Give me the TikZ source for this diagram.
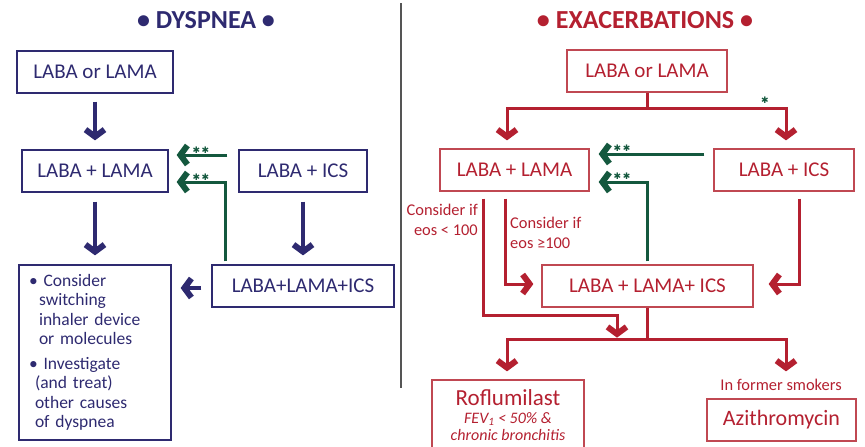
\documentclass[tikz,border=0pt]{standalone}
\usepackage{fontspec}
\setmainfont{Carlito}
\newfontfamily\symfont{DejaVu Sans}
\usetikzlibrary{arrows.meta}
\definecolor{navy}{RGB}{46,42,112}
\definecolor{exred}{RGB}{180,32,48}
\definecolor{boxred}{RGB}{192,72,82}
\definecolor{dgreen}{RGB}{20,88,62}
\definecolor{divgray}{RGB}{85,85,85}
\tikzset{
  chev/.tip={Straight Barb[length=7pt,width=19pt,line width=6pt]},
  nbox/.style={draw=navy,line width=1.3pt,text=navy,minimum height=42pt,inner sep=2pt,font=\fontsize{21}{24}\selectfont},
  rbox/.style={draw=boxred,line width=1.3pt,text=exred,minimum height=42pt,inner sep=2pt,font=\fontsize{21}{24}\selectfont},
  narrow/.style={draw=navy,line width=3.5pt,-chev},
  rline/.style={draw=exred,line width=3pt},
  rarrow/.style={draw=exred,line width=3pt,-chev},
  garrow/.style={draw=dgreen,line width=3pt,-chev},
  stars/.style={text=dgreen,font=\symfont\fontsize{9}{9}\selectfont,inner sep=0pt},
  small/.style={text=exred,font=\fontsize{16.4}{19.5}\selectfont,inner sep=0pt},
  ital/.style={text=exred,font=\fontsize{16}{16}\selectfont\itshape,inner sep=0pt},
  ttl/.style={font=\fontsize{26}{28}\selectfont\bfseries,inner sep=0pt}
}
\begin{document}
\begin{tikzpicture}[x=1pt,y=-1pt]
\useasboundingbox (0,0) rectangle (865,447);
% divider
\draw[divgray,line width=2.5pt] (401,3) -- (401,388);
% titles
\node[ttl,text=navy] (t1) at (206,20) {• DYSPNEA •};
\node[ttl,text=exred] (t2) at (645,20) {• EXACERBATIONS •};
% left boxes
\node[nbox,minimum width=156pt] (d1) at (95,72) {LABA or LAMA};
\node[nbox,minimum width=146pt] (d2) at (95,171) {LABA + LAMA};
\node[nbox,minimum width=128pt] (d3) at (303,171) {LABA + ICS};
\node[nbox,minimum width=182pt] (d4) at (303,286) {LABA+LAMA+ICS};
\node[draw=navy,line width=1.3pt,text=navy,minimum width=152pt,minimum height=175pt,
  text width=132pt,inner xsep=10pt,align=left,font=\fontsize{17.5}{19.5}\selectfont] (d5) at (95,352.5)
  {\textbullet\ Consider\\\hspace*{10pt}switching\\\hspace*{10pt}inhaler device\\\hspace*{10pt}or molecules\\[5pt]
   \textbullet\ Investigate\\\hspace*{6pt}(and treat)\\\hspace*{6pt}other causes\\\hspace*{6pt}of dyspnea};
\coordinate (p5) at (d5.east |- d4.west);
% left connectors
\draw[narrow] ([yshift=-8pt]d1.south) -- ([yshift=9pt]d2.north);
\draw[narrow] ([yshift=-9pt]d2.south) -- ([yshift=9pt]d5.north);
\draw[narrow] ([yshift=-9pt]d3.south) -- ([yshift=9pt]d4.north);
\draw[narrow] ([xshift=-10pt,yshift=-2pt]d4.west) -- ([xshift=9pt,yshift=-2pt]p5);
\draw[garrow] ([xshift=-11pt,yshift=16pt]d3.west) -- ([xshift=8pt,yshift=16pt]d2.east);
\draw[garrow] ([xshift=-78pt,yshift=3pt]d4.north) |- ([xshift=8pt,yshift=-11pt]d2.east);
\node[stars] (s1) at (201,150) {✱\,✱};
\node[stars] (s2) at (201,177) {✱\,✱};
% right boxes
\node[rbox,minimum width=160pt] (e1) at (647,71) {LABA or LAMA};
\node[rbox,minimum width=149pt] (e2) at (514.5,170) {LABA + LAMA};
\node[rbox,minimum width=140pt] (e3) at (784,170) {LABA + ICS};
\node[rbox,minimum width=211pt] (e4) at (647.5,286) {LABA + LAMA+ ICS};
\node[draw=boxred,line width=1.3pt,minimum width=152pt,minimum height=72pt,inner sep=0pt] (e5) at (508,416) {};
\node[text=exred,font=\fontsize{23}{24}\selectfont,inner sep=0pt] (r1) at (508,398) {Roflumilast};
\node[ital] (r2) at (508,419) {FEV\textsubscript{1} < 50\% \&};
\node[ital] (r3) at (508,434.5) {chronic bronchitis};
\node[rbox,minimum width=149pt,font=\fontsize{22}{24}\selectfont] (e6) at (781.5,420) {Azithromycin};
\node[small] (lbl) at (781,385) {In former smokers};
\node[small,anchor=east,align=right] (c1) at (478,220) {Consider if\\eos < 100};
\node[small,anchor=west,align=left] (c2) at (510,233) {Consider if\\eos ≥100};
% right connectors
\draw[rline] (e1.south) -- ++(0,16) coordinate (j1);
\draw[rarrow] (j1) -| ([xshift=-7.5pt,yshift=8pt]e2.north);
\draw[rarrow] (j1) -| ([xshift=2pt,yshift=8pt]e3.north);
\node[stars] (s3) at (765,100) {✱};
\draw[garrow] ([xshift=-9pt,yshift=16pt]e3.west) -- ([xshift=9pt,yshift=16pt]e2.east);
\draw[garrow] ([xshift=-0.5pt,yshift=3pt]e4.north) |- ([xshift=9pt,yshift=-12pt]e2.east);
\node[stars] (s4) at (622,148) {✱\,✱};
\node[stars] (s5) at (622,176) {✱\,✱};
\coordinate (m1) at (617,315);
\draw[rarrow] ([xshift=-31.5pt,yshift=-7pt]e2.south) |- (m1) -- ([xshift=-30.5pt,yshift=-30pt]e4.south);
\draw[rarrow] ([xshift=-9.5pt,yshift=-7pt]e2.south) |- ([xshift=-8pt,yshift=2pt]e4.west);
\draw[rarrow] ([xshift=15pt,yshift=-7pt]e3.south) |- ([xshift=15pt,yshift=2pt]e4.east);
\draw[rline] (e4.south) -- ++(0,32) coordinate (j2);
\draw[rarrow] (j2) -| ([xshift=-1pt,yshift=8pt]e5.north);
\draw[rarrow] (j2) -| ([xshift=4.5pt,yshift=27pt]e6.north);
\end{tikzpicture}
\end{document}
